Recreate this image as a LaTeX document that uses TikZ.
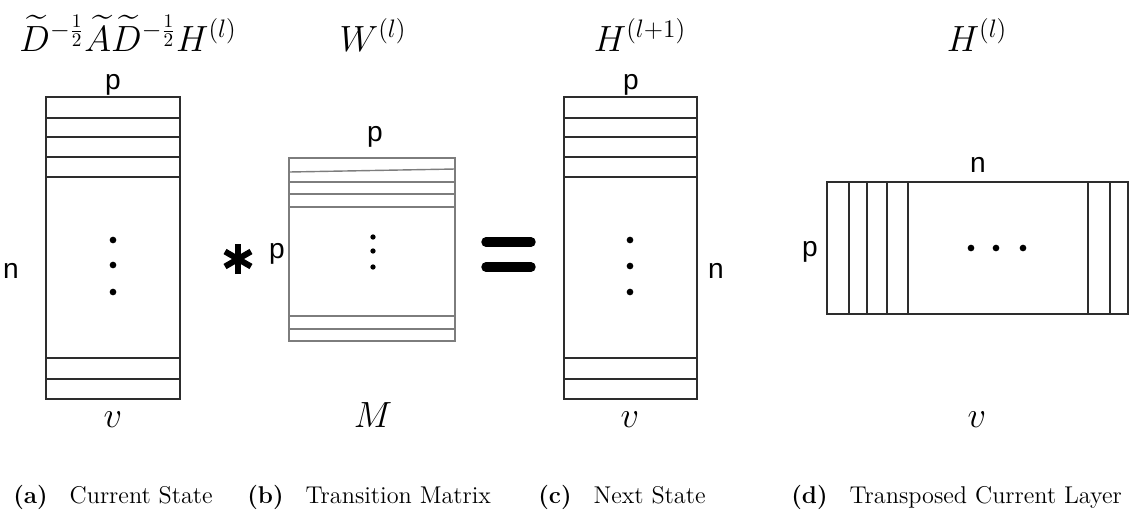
\documentclass[tikz,border=0pt]{standalone}
\usepackage{amsmath}
\usepackage{fontspec}
\newfontfamily\labfont{Liberation Sans}
\definecolor{mline}{RGB}{45,45,45}
\definecolor{wline}{RGB}{125,125,125}

\begin{document}
\begin{tikzpicture}[x=.02cm,y=-.02cm,
  lab/.style={font=\fontsize{16}{18}\selectfont\labfont,inner sep=0pt,anchor=base},
  ttl/.style={font=\fontsize{21}{24}\selectfont,inner sep=0pt,anchor=base},
  subcap/.style={font=\fontsize{13.8}{16}\selectfont,inner sep=0pt,anchor=base west},
  dot/.style={fill=black,circle,inner sep=0pt,minimum size=#1}]
\useasboundingbox (0,0) rectangle (1130,512);
% (a) current state
\draw[mline,line width=1.1pt] (46,97) rectangle (180,399);
\foreach \y in {118,137,157,177,358,379} {\draw[mline,line width=1.1pt] (46,\y)--(180,\y);}
\foreach \y/\k in {240/1,265/2,292/3} {\node[dot=3.8pt] (adot\k) at (113,\y) {};}
\node[lab] (ap) at (113,89) {p};
\node[lab] (an) at (11,278) {n};
\node[ttl] (atitle) at (128,51) {$\widetilde{D}^{-\frac{1}{2}}\widetilde{A}\widetilde{D}^{-\frac{1}{2}}H^{(l)}$};
\node[ttl] (av) at (113,427) {$v$};
% (b) transition matrix
\draw[wline,line width=.8pt] (289,158) rectangle (455,341);
\draw[wline,line width=.8pt] (289,172)--(455,169);
\foreach \y in {182,194,207,316,329} {\draw[wline,line width=.8pt] (289,\y)--(455,\y);}
\foreach \y/\k in {237/1,251/2,267/3} {\node[dot=3pt] (bdot\k) at (373,\y) {};}
\node[lab] (bp) at (375,141) {p};
\node[lab] (bpl) at (277,258) {p};
\node[ttl] (btitle) at (373,51) {$W^{(l)}$};
\node[ttl] (bm) at (373,427) {$M$};
% operators
\foreach \a in {90,30,150} {\draw[line width=3.4pt,shift={(238,259)}] (\a:15)--(\a+180:15);}
\draw[line width=5.4pt,line cap=round] (486,242)--(531,242);
\draw[line width=5.4pt,line cap=round] (486,267)--(531,267);
% (c) next state
\draw[mline,line width=1.1pt] (564,97) rectangle (697,399);
\foreach \y in {118,137,157,177,358,379} {\draw[mline,line width=1.1pt] (564,\y)--(697,\y);}
\foreach \y/\k in {240/1,266/2,292/3} {\node[dot=3.8pt] (cdot\k) at (630,\y) {};}
\node[lab] (cp) at (631,89) {p};
\node[lab] (cn) at (716,278) {n};
\node[ttl] (ctitle) at (640,51) {$H^{(l+1)}$};
\node[ttl] (cv) at (630,427) {$v$};
% (d) transposed current layer
\draw[mline,line width=1.1pt] (827,182) rectangle (1128,314);
\foreach \x in {849,867,887,908,1088,1110} {\draw[mline,line width=1.1pt] (\x,182)--(\x,314);}
\foreach \x/\k in {971/1,996/2,1023/3} {\node[dot=3.8pt] (ddot\k) at (\x,248) {};}
\node[lab] (dn) at (978,172) {n};
\node[lab] (dp) at (810,256) {p};
\node[ttl] (dtitle) at (977,51) {$H^{(l)}$};
\node[ttl] (dv) at (977,427) {$v$};
% captions
\node[subcap] (acap) at (13,503) {\textbf{(a)}\hspace{.9em}Current State};
\node[subcap] (bcap) at (247,503) {\textbf{(b)}\hspace{.9em}Transition Matrix};
\node[subcap] (ccap) at (538,503) {\textbf{(c)}\hspace{.9em}Next State};
\node[subcap] (dcap) at (791,503) {\textbf{(d)}\hspace{.9em}Transposed Current Layer};
\end{tikzpicture}
\end{document}
